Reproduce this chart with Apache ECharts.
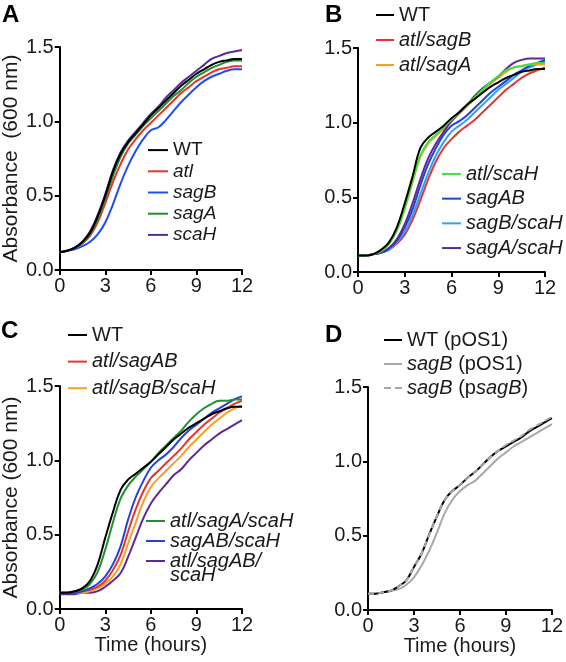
<!DOCTYPE html>
<html>
<head>
<meta charset="utf-8">
<script src="https://cdn.jsdelivr.net/npm/echarts@6/dist/echarts.min.js"></script>
<style>html,body{margin:0;padding:0;background:#fff;}#c{width:566px;height:662px;}</style>
</head>
<body>
<div id="c"></div>
<script>
// ---- shared axis data ----
const hours = [0,0.5,1,1.5,2,2.5,3,3.5,4,4.5,5,5.5,6,6.5,7,7.5,8,8.5,9,9.5,10,10.5,11,11.5,12];
const xTicks = [0,3,6,9,12];
const yTicks = [0.0,0.5,1.0,1.5];

// ---- Panel A ----
const A_WT   = [0.12,0.13,0.15,0.19,0.25,0.36,0.50,0.66,0.78,0.86,0.92,0.98,1.04,1.09,1.14,1.19,1.24,1.28,1.32,1.35,1.38,1.40,1.41,1.42,1.42];
const A_atl  = [0.12,0.13,0.15,0.18,0.23,0.32,0.45,0.59,0.71,0.81,0.88,0.94,0.99,1.04,1.09,1.14,1.19,1.23,1.27,1.30,1.33,1.35,1.36,1.37,1.37];
const A_sagB = [0.12,0.13,0.14,0.16,0.19,0.24,0.32,0.44,0.58,0.70,0.80,0.88,0.94,0.96,1.01,1.07,1.13,1.18,1.23,1.27,1.30,1.32,1.34,1.35,1.35];
const A_sagA = [0.12,0.13,0.15,0.18,0.24,0.34,0.48,0.63,0.76,0.85,0.91,0.97,1.02,1.07,1.12,1.17,1.21,1.26,1.30,1.33,1.36,1.38,1.40,1.41,1.41];
const A_scaH = [0.12,0.13,0.15,0.19,0.26,0.37,0.51,0.67,0.79,0.87,0.93,0.99,1.05,1.10,1.16,1.21,1.26,1.30,1.34,1.38,1.42,1.44,1.46,1.47,1.48];

// ---- Panel B ----
const B_WT       = [0.11,0.11,0.12,0.15,0.20,0.30,0.46,0.64,0.83,0.90,0.94,0.98,1.03,1.07,1.12,1.16,1.20,1.24,1.27,1.30,1.32,1.34,1.35,1.36,1.36];
const B_atlSagB  = [0.11,0.11,0.12,0.13,0.15,0.19,0.25,0.35,0.48,0.62,0.74,0.83,0.89,0.94,0.98,1.02,1.07,1.12,1.17,1.22,1.26,1.30,1.33,1.35,1.37];
const B_atlSagA  = [0.11,0.11,0.12,0.14,0.19,0.28,0.42,0.60,0.77,0.86,0.91,0.96,1.01,1.06,1.11,1.16,1.21,1.26,1.30,1.34,1.37,1.38,1.39,1.39,1.39];
const B_atlScaH  = [0.11,0.11,0.12,0.14,0.19,0.28,0.43,0.61,0.78,0.87,0.92,0.97,1.02,1.07,1.12,1.17,1.22,1.27,1.31,1.35,1.37,1.38,1.39,1.40,1.40];
const B_sagAB    = [0.11,0.11,0.12,0.13,0.16,0.21,0.30,0.42,0.58,0.72,0.83,0.92,0.98,1.01,1.05,1.10,1.15,1.20,1.24,1.28,1.32,1.35,1.38,1.40,1.42];
const B_sagBScaH = [0.11,0.11,0.12,0.13,0.15,0.20,0.27,0.38,0.52,0.66,0.78,0.87,0.94,0.98,1.02,1.07,1.12,1.17,1.22,1.26,1.30,1.34,1.37,1.39,1.41];
const B_sagAScaH = [0.11,0.11,0.12,0.13,0.16,0.22,0.32,0.46,0.62,0.76,0.86,0.94,1.01,1.07,1.12,1.18,1.23,1.27,1.31,1.36,1.40,1.42,1.43,1.43,1.43];

// ---- Panel C ----
const C_WT          = [0.11,0.11,0.12,0.14,0.19,0.30,0.48,0.65,0.80,0.87,0.91,0.95,0.99,1.04,1.09,1.14,1.18,1.22,1.25,1.28,1.31,1.33,1.35,1.36,1.36];
const C_atlSagAB    = [0.11,0.11,0.11,0.12,0.13,0.15,0.19,0.26,0.36,0.52,0.67,0.79,0.88,0.93,0.98,1.03,1.08,1.14,1.19,1.24,1.28,1.32,1.35,1.38,1.40];
const C_atlSagBScaH = [0.11,0.11,0.11,0.11,0.12,0.14,0.17,0.22,0.30,0.44,0.58,0.72,0.82,0.88,0.93,0.98,1.03,1.09,1.14,1.19,1.24,1.28,1.32,1.35,1.37];
const C_atlSagAScaH = [0.11,0.11,0.12,0.13,0.17,0.25,0.40,0.58,0.74,0.83,0.89,0.94,0.99,1.05,1.10,1.15,1.20,1.26,1.31,1.35,1.38,1.40,1.40,1.41,1.41];
const C_sagABScaH   = [0.11,0.11,0.11,0.12,0.14,0.17,0.22,0.30,0.42,0.60,0.75,0.86,0.95,1.00,1.04,1.09,1.15,1.20,1.24,1.28,1.32,1.35,1.38,1.41,1.43];
const C_atlSagABScaH= [0.10,0.10,0.10,0.11,0.11,0.12,0.15,0.19,0.24,0.35,0.48,0.61,0.71,0.78,0.84,0.90,0.94,1.00,1.05,1.10,1.14,1.18,1.21,1.24,1.27];

// ---- Panel D ----
const D_WT      = [0.11,0.11,0.12,0.13,0.16,0.20,0.29,0.38,0.51,0.63,0.74,0.80,0.84,0.89,0.93,0.98,1.03,1.07,1.10,1.13,1.16,1.20,1.23,1.26,1.29];
const D_sagB    = [0.11,0.11,0.12,0.13,0.14,0.17,0.22,0.30,0.40,0.52,0.65,0.74,0.80,0.84,0.87,0.92,0.97,1.02,1.06,1.10,1.13,1.16,1.19,1.22,1.25];
const D_sagBp   = [0.11,0.11,0.12,0.13,0.16,0.20,0.29,0.38,0.51,0.63,0.74,0.80,0.84,0.89,0.93,0.98,1.03,1.07,1.11,1.14,1.17,1.21,1.24,1.27,1.30];

const FONT = '"Liberation Sans", Arial, Helvetica, sans-serif';
const TXT = '#1a1a1a';

const grids = [
  {left:55,  top:47,  width:187, height:223},
  {left:358, top:48,  width:187, height:224},
  {left:55,  top:386, width:187, height:223},
  {left:368, top:387, width:188, height:223}
];

function xAx(i, named){
  return {
    gridIndex:i, type:'value', min:xTicks[0], max:xTicks[xTicks.length-1], interval:3,
    axisLine:{lineStyle:{color:'#000', width:2}},
    axisTick:{length:5, lineStyle:{color:'#000', width:2}},
    splitLine:{show:false},
    axisLabel:{color:TXT, fontSize:20, fontFamily:FONT, margin:6},
    name: named ? 'Time (hours)' : '', nameLocation:'middle', nameGap:26,
    nameTextStyle:{color:TXT, fontSize:20, fontFamily:FONT}
  };
}
function yAx(i, name){
  return {
    gridIndex:i, type:'value', min:yTicks[0], max:yTicks[yTicks.length-1], interval:0.5,
    axisLine:{show:true, lineStyle:{color:'#000', width:2}},
    axisTick:{show:true, length:5, lineStyle:{color:'#000', width:2}},
    splitLine:{show:false},
    axisLabel:{color:TXT, fontSize:20, fontFamily:FONT, margin:6, formatter:v=>v.toFixed(1)},
    name: name || '', nameLocation:'middle', nameGap:29,
    nameTextStyle:{color:TXT, fontSize:21, fontFamily:FONT}
  };
}

function ser(name, vals, gi, color, dashed){
  return {
    name, type:'line', xAxisIndex:gi, yAxisIndex:gi,
    data: hours.map((t,k)=>[t, vals[k]]),
    symbol:'none', showSymbol:false, smooth:0.4,
    lineStyle:{color, width:2, type: dashed ? [6,4] : 'solid'},
    itemStyle:{color},
    emphasis:{disabled:true}, silent:true
  };
}

const RED='#e8352b', BLUE='#1f4ef0', GREEN='#1f8f2f', PURPLE='#5b2a98', ORANGE='#f5a02a',
      LGREEN='#3fe33f', DBLUE='#2342d6', LBLUE='#2ea3f2', GRAY='#a8a8a8';

const series = [
  ser('sagB', A_sagB, 0, BLUE),
  ser('atl', A_atl, 0, RED),
  ser('sagA', A_sagA, 0, GREEN),
  ser('scaH', A_scaH, 0, PURPLE),
  ser('WT', A_WT, 0, '#000'),

  ser('atl/sagB', B_atlSagB, 1, RED),
  ser('sagB/scaH', B_sagBScaH, 1, LBLUE),
  ser('sagAB', B_sagAB, 1, DBLUE),
  ser('atl/sagA', B_atlSagA, 1, ORANGE),
  ser('sagA/scaH', B_sagAScaH, 1, PURPLE),
  ser('atl/scaH', B_atlScaH, 1, LGREEN),
  ser('WT', B_WT, 1, '#000'),

  ser('atl/sagAB/scaH', C_atlSagABScaH, 2, PURPLE),
  ser('atl/sagB/scaH', C_atlSagBScaH, 2, ORANGE),
  ser('atl/sagAB', C_atlSagAB, 2, RED),
  ser('sagAB/scaH', C_sagABScaH, 2, DBLUE),
  ser('atl/sagA/scaH', C_atlSagAScaH, 2, GREEN),
  ser('WT', C_WT, 2, '#000'),

  ser('sagB (pOS1)', D_sagB, 3, GRAY),
  ser('WT (pOS1)', D_WT, 3, '#000'),
  ser('sagB (psagB)', D_sagBp, 3, GRAY, true)
];

function fmt(name){
  if (name.indexOf('WT') === 0) return name;
  if (name === 'sagB (pOS1)') return '{i|sagB} (pOS1)';
  if (name === 'sagB (psagB)') return '{i|sagB} (p{i|sagB})';
  if (name === 'atl/sagAB/scaH') return '{i|atl/sagAB/}';
  return '{i|' + name + '}';
}
const DASH_ICON = 'path://M0,0h7v2h-7z M11,0h7v2h-7z';
function leg(names, left, top, lh, iw, fs){
  return {
    data: names.map(n => ({name:n, icon: n === 'sagB (psagB)' ? DASH_ICON : 'rect'})),
    left, top, orient:'vertical', padding:0, itemGap:0,
    itemWidth:iw, itemHeight:2, selectedMode:false,
    itemStyle:{borderWidth:0},
    formatter: fmt,
    textStyle:{color:TXT, fontSize:fs, fontFamily:FONT, lineHeight:lh,
      rich:{i:{fontStyle:'italic', fontSize:fs, fontFamily:FONT, color:TXT, lineHeight:lh}}}
  };
}

const option = {
  animation:false,
  backgroundColor:'#fff',
  grid: grids,
  xAxis:[xAx(0,false), xAx(1,false), xAx(2,true), xAx(3,true)],
  yAxis:[yAx(0,'Absorbance  (600 nm)'), yAx(1,''), yAx(2,'Absorbance (600 nm)'), yAx(3,'')],
  legend:[
    leg(['WT','atl','sagB','sagA','scaH'], 148, 139.5, 21.2, 20, 19),
    leg(['WT','atl/sagB','atl/sagA'], 376, 2.5, 25, 18, 20),
    leg(['atl/scaH','sagAB','sagB/scaH','sagA/scaH'], 442, 161.6, 24.7, 19, 20),
    leg(['WT','atl/sagAB','atl/sagB/scaH'], 68, 321.7, 26.6, 19, 20),
    leg(['atl/sagA/scaH','sagAB/scaH','atl/sagAB/scaH'], 146, 511, 18.5, 19, 20),
    leg(['WT (pOS1)','sagB (pOS1)','sagB (psagB)'], 384, 328, 24, 18, 20)
  ],
  graphic:[
    {type:'text', left:2, top:3, style:{text:'A', font:'bold 24px '+FONT, fill:'#000'}},
    {type:'text', left:325, top:3, style:{text:'B', font:'bold 24px '+FONT, fill:'#000'}},
    {type:'text', left:1, top:319, style:{text:'C', font:'bold 24px '+FONT, fill:'#000'}},
    {type:'text', left:325, top:323, style:{text:'D', font:'bold 24px '+FONT, fill:'#000'}},
    {type:'text', left:170, top:565, style:{text:'scaH', font:'italic 20px '+FONT, fill:TXT}}
  ],
  series
};

const chart = echarts.init(document.getElementById('c'), null, {renderer:'canvas'});
chart.setOption(option);
</script>
</body>
</html>
